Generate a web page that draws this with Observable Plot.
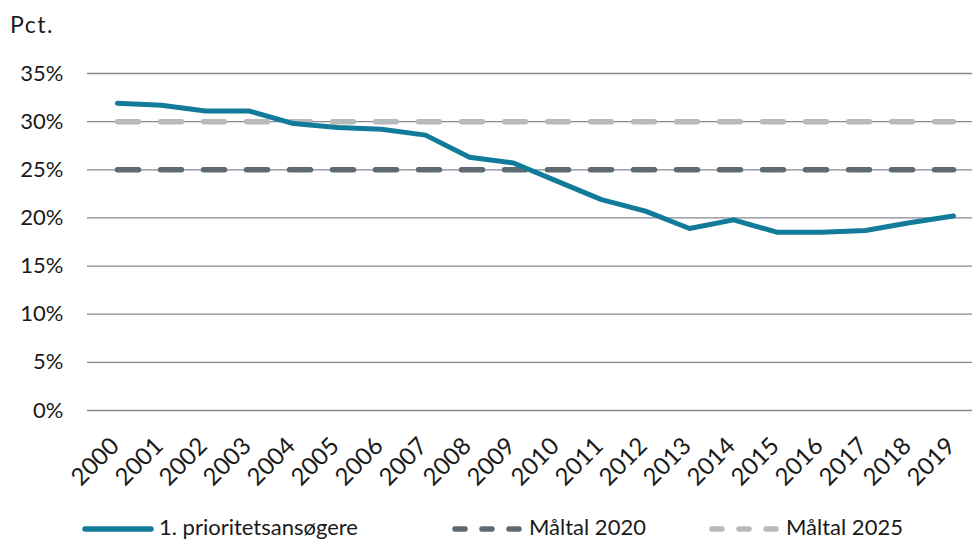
<!DOCTYPE html>
<html>
<head>
<meta charset="utf-8">
<script src="https://cdn.jsdelivr.net/npm/d3@7"></script>
<script src="https://cdn.jsdelivr.net/npm/@observablehq/plot@0.6"></script>
<style>
  html, body { margin: 0; padding: 0; background: #fff; }
  #wrap { position: relative; width: 972px; height: 544px; overflow: hidden; font-family: Lato, "Open Sans", sans-serif; color: #1a1a1a; }
  #title { position: absolute; left: 10px; top: 10px; font-size: 23px; letter-spacing: 1.5px; }
  #legend { position: absolute; left: 0; top: 514px; height: 28px; width: 972px; font-size: 22px; line-height: 26px; }
  .item { position: absolute; top: 0; display: flex; align-items: center; white-space: nowrap; }
  .item svg { margin-right: 5px; }
</style>
</head>
<body>
<div id="wrap">
  <div id="chart"></div>
  <div id="title">Pct.</div>
  <div id="legend"></div>
</div>
<script>
const years = ["2000","2001","2002","2003","2004","2005","2006","2007","2008","2009","2010","2011","2012","2013","2014","2015","2016","2017","2018","2019"];
const applicants = [31.9, 31.7, 31.1, 31.1, 29.8, 29.4, 29.2, 28.6, 26.3, 25.7, 23.8, 21.9, 20.7, 18.9, 19.8, 18.5, 18.5, 18.7, 19.5, 20.2];
const target2020 = 25;
const target2025 = 30;
const yTicks = [0, 5, 10, 15, 20, 25, 30, 35];
const seriesNames = ["1. prioritetsansøgere", "Måltal 2020", "Måltal 2025"];
const colors = ["#127b99", "#5e6a71", "#b6baba"];

const rows = years.map((y, i) => ({year: y, value: applicants[i], t20: target2020, t25: target2025}));

const chart = Plot.plot({
  width: 972,
  height: 544,
  marginTop: 73,
  marginBottom: 134,
  marginLeft: 87,
  marginRight: 0,
  style: {fontFamily: "Lato, 'Open Sans', sans-serif", fontSize: "22px", color: "#1a1a1a", background: "transparent"},
  x: {type: "point", domain: years, range: [109.4, 960.6], padding: 0, axis: null},
  y: {domain: [0, 35], ticks: yTicks, axis: null},
  marks: [
    Plot.ruleY(yTicks, {stroke: "#878793", strokeWidth: 1.3}),
    Plot.text(yTicks, {y: d => d, text: d => d + "%", frameAnchor: "left", textAnchor: "end", dx: -24, fontSize: 22, fill: "#1a1a1a"}),
    Plot.text(years, {x: d => d, text: d => d, frameAnchor: "bottom", textAnchor: "end", rotate: -45, dx: 3, dy: 37, fontSize: 24, fill: "#1a1a1a"}),
    Plot.line(rows, {x: "year", y: "t20", stroke: colors[1], strokeWidth: 5.5, strokeDasharray: "21,22", strokeLinecap: "round"}),
    Plot.line(rows, {x: "year", y: "t25", stroke: colors[2], strokeWidth: 5.5, strokeDasharray: "21,22", strokeLinecap: "round"}),
    Plot.line(rows, {x: "year", y: "value", stroke: colors[0], strokeWidth: 5, strokeLinejoin: "round", strokeLinecap: "round"})
  ]
});
document.getElementById("chart").appendChild(chart);

const legend = document.getElementById("legend");
const legendX = [82, 452, 709];
seriesNames.forEach((name, i) => {
  const item = document.createElement("div");
  item.className = "item";
  item.style.left = legendX[i] + "px";
  const dash = i === 0 ? "" : `stroke-dasharray="10,17"`;
  item.innerHTML = `<svg width="72" height="26"><line x1="3" y1="15" x2="69" y2="15" stroke="${colors[i]}" stroke-width="5.5" stroke-linecap="round" ${dash}/></svg><span>${name}</span>`;
  legend.appendChild(item);
});
</script>
</body>
</html>
